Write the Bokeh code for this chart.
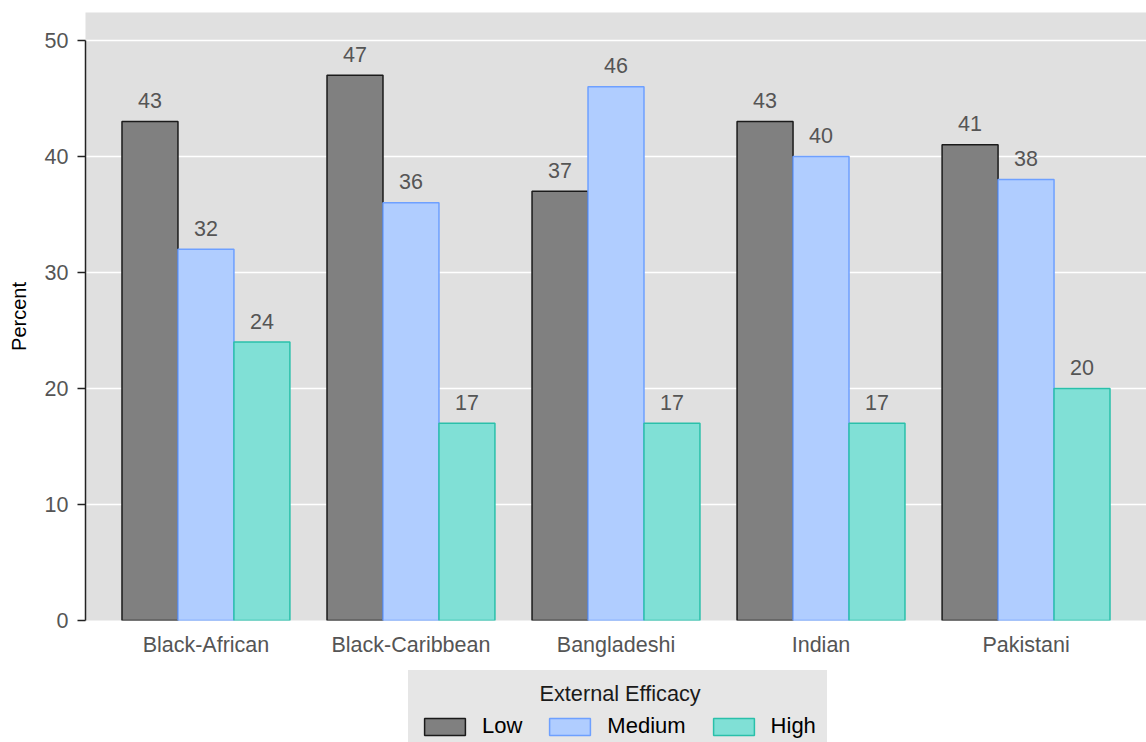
from bokeh.plotting import figure
from bokeh.layouts import column
from bokeh.models import FactorRange, Range1d, Legend, LegendItem, ColumnDataSource, SingleIntervalTicker
from bokeh.transform import dodge
from bokeh.core.properties import value
from bokeh.embed import file_html
from bokeh.resources import INLINE

categories = ["Black-African", "Black-Caribbean", "Bangladeshi", "Indian", "Pakistani"]
low = [43, 47, 37, 43, 41]
medium = [32, 36, 46, 40, 38]
high = [24, 17, 17, 17, 20]
series_names = ["Low", "Medium", "High"]
legend_title = "External Efficacy"

FONT = "Liberation Sans"
FS = "21.5px"

src = ColumnDataSource(dict(
    cat=categories, low=low, medium=medium, high=high,
    low_t=[str(v) for v in low], medium_t=[str(v) for v in medium], high_t=[str(v) for v in high],
))

p = figure(
    x_range=FactorRange(*categories, range_padding=0.035),
    y_range=Range1d(0, 52.4),
    width=1146, height=666,
    output_backend="svg", toolbar_location=None,
    min_border_left=85, min_border_right=0, min_border_top=12, min_border_bottom=46,
)
p.background_fill_color = "#e0e0e0"
p.border_fill_color = "white"
p.outline_line_color = None
p.xgrid.grid_line_color = None
p.ygrid.grid_line_color = "white"
p.ygrid.grid_line_width = 1.5

bw = 0.273
styles = [
    ("low", "#808080", "#1a1a1a", -bw),
    ("medium", "#b0cdff", "#6ea0ff", 0.0),
    ("high", "#80e0d6", "#2ac0aa", bw),
]
for col, fill, line, off in styles:
    p.vbar(x=dodge("cat", off, range=p.x_range), top=col, width=bw, source=src,
           fill_color=fill, line_color=line, line_width=1.5)
    p.text(x=dodge("cat", off, range=p.x_range), y=col, text=col + "_t", source=src,
           text_align="center", text_baseline="middle", y_offset=-21,
           text_font=value(FONT), text_font_size=FS, text_color="#555555")

# y axis
yax = p.yaxis[0]
yax.ticker = SingleIntervalTicker(interval=10)
yax.bounds = (0, 50)
yax.axis_line_color = "#222222"
yax.axis_line_width = 1.5
yax.major_tick_line_color = "#222222"
yax.major_tick_line_width = 1.5
yax.major_tick_out = 8
yax.major_tick_in = 0
yax.minor_tick_line_color = None
yax.major_label_text_font = FONT
yax.major_label_text_font_size = FS
yax.major_label_text_color = "#555555"
yax.major_label_standoff = 9
yax.axis_label = "Percent"
yax.axis_label_text_font = FONT
yax.axis_label_text_font_size = "20px"
yax.axis_label_text_font_style = "normal"
yax.axis_label_text_color = "black"
yax.axis_label_standoff = 12

xax = p.xaxis[0]
xax.axis_line_color = None
xax.major_tick_line_color = None
xax.major_tick_out = 0
xax.major_tick_in = 0
xax.minor_tick_line_color = None
xax.major_label_text_font = FONT
xax.major_label_text_font_size = FS
xax.major_label_text_color = "#555555"
xax.major_label_standoff = 12

# legend strip (separate figure below the chart); its bars are hidden, only legend shows
q = figure(
    x_range=p.x_range, y_range=Range1d(1000, 1001),
    width=1146, height=76,
    output_backend="svg", toolbar_location=None,
    x_axis_location=None, y_axis_location=None,
    min_border=0,
)
q.grid.visible = False
q.outline_line_color = None
q.background_fill_color = "white"
q.border_fill_color = "white"
leg_renderers = []
for col, fill, line, off in styles:
    r = q.vbar(x=dodge("cat", off, range=q.x_range), top=col, width=bw, source=src,
               fill_color=fill, line_color=line, line_width=1.5, visible=False)
    leg_renderers.append(r)

legend = Legend(
    items=[LegendItem(label=n, renderers=[r]) for n, r in zip(series_names, leg_renderers)],
    orientation="horizontal", location=(323, -8),
    title="\u00a0" * 20 + legend_title,
    title_text_font=FONT, title_text_font_size="21.7px", title_text_font_style="normal",
    title_text_color="#1a1a1a",
    title_standoff=6,
    label_text_font=FONT, label_text_font_size="22px", label_text_color="black",
    background_fill_color="#e6e6e6", background_fill_alpha=1.0,
    border_line_color="#e6e6e6", border_line_width=1,
    glyph_width=51, glyph_height=21, label_standoff=12, spacing=22,
    padding=10, margin=0,
)
q.add_layout(legend, "center")

layout = column(p, q, spacing=0)
open("out.html", "w").write(file_html(layout, INLINE))
